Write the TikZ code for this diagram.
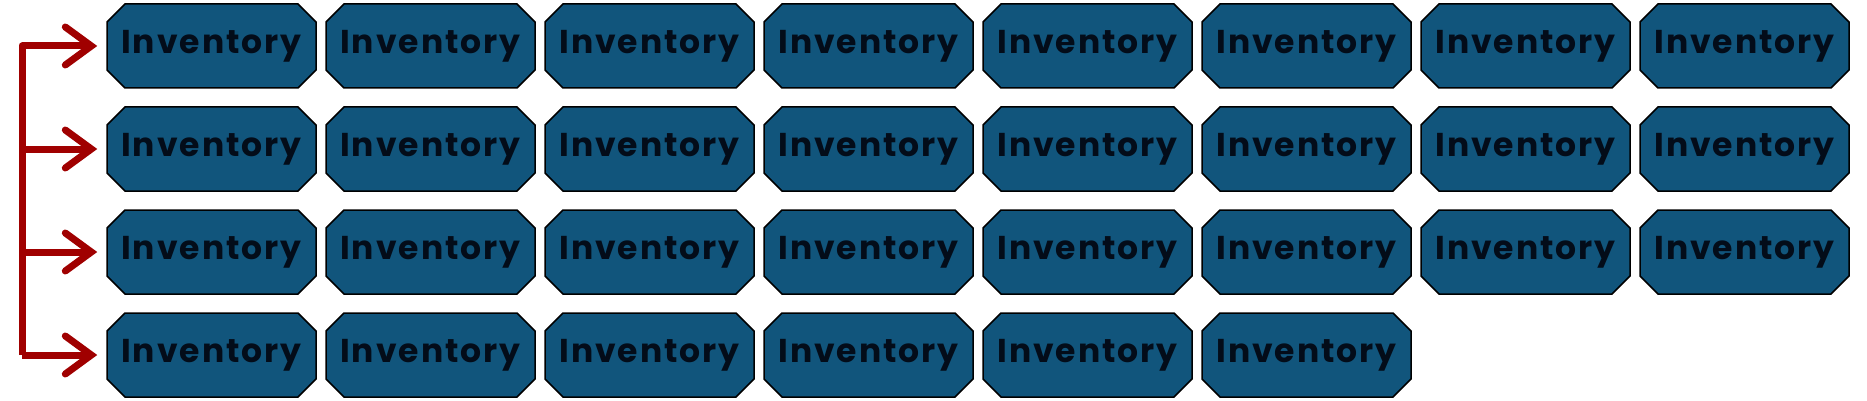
\documentclass[tikz,border=0pt]{standalone}
\usepackage{fontspec}
\setmainfont{Poppins}
\newfontfamily\invfont[LetterSpace=6]{Poppins}
\usepackage{xcolor}
\usetikzlibrary{shapes.misc,arrows.meta,positioning}

\definecolor{invfill}{HTML}{11557C}
\definecolor{invtext}{HTML}{030C19}
\definecolor{flowred}{HTML}{A00000}

\begin{document}
\begin{tikzpicture}[x=1pt, y=1pt,
box/.style={chamfered rectangle, chamfered rectangle xsep=9pt, chamfered rectangle ysep=9pt,
  draw=black, line width=1.5pt, fill=invfill, minimum width=209pt, minimum height=84pt,
  inner sep=0pt, text=invtext, font=\invfont\fontsize{33}{33}\selectfont\bfseries},
arrow/.style={-{Straight Barb[length=26pt, width=38pt, line cap=round]}, line width=7pt,
  draw=flowred, line join=round, shorten >=9pt}
]
\useasboundingbox (0,0) rectangle (1867,-401);

% Row 1
\node[box] (inv11) at (211.5,-46) {Inventory};
\node[box, right=8.5pt of inv11] (inv12) {Inventory};
\node[box, right=8.5pt of inv12] (inv13) {Inventory};
\node[box, right=8.5pt of inv13] (inv14) {Inventory};
\node[box, right=8.5pt of inv14] (inv15) {Inventory};
\node[box, right=8.5pt of inv15] (inv16) {Inventory};
\node[box, right=8.5pt of inv16] (inv17) {Inventory};
\node[box, right=8.5pt of inv17] (inv18) {Inventory};

% Row 2
\node[box, below=17.5pt of inv11] (inv21) {Inventory};
\node[box, right=8.5pt of inv21] (inv22) {Inventory};
\node[box, right=8.5pt of inv22] (inv23) {Inventory};
\node[box, right=8.5pt of inv23] (inv24) {Inventory};
\node[box, right=8.5pt of inv24] (inv25) {Inventory};
\node[box, right=8.5pt of inv25] (inv26) {Inventory};
\node[box, right=8.5pt of inv26] (inv27) {Inventory};
\node[box, right=8.5pt of inv27] (inv28) {Inventory};

% Row 3
\node[box, below=17.5pt of inv21] (inv31) {Inventory};
\node[box, right=8.5pt of inv31] (inv32) {Inventory};
\node[box, right=8.5pt of inv32] (inv33) {Inventory};
\node[box, right=8.5pt of inv33] (inv34) {Inventory};
\node[box, right=8.5pt of inv34] (inv35) {Inventory};
\node[box, right=8.5pt of inv35] (inv36) {Inventory};
\node[box, right=8.5pt of inv36] (inv37) {Inventory};
\node[box, right=8.5pt of inv37] (inv38) {Inventory};

% Row 4
\node[box, below=17.5pt of inv31] (inv41) {Inventory};
\node[box, right=8.5pt of inv41] (inv42) {Inventory};
\node[box, right=8.5pt of inv42] (inv43) {Inventory};
\node[box, right=8.5pt of inv43] (inv44) {Inventory};
\node[box, right=8.5pt of inv44] (inv45) {Inventory};
\node[box, right=8.5pt of inv45] (inv46) {Inventory};

% Spine with arrows into each row
\coordinate (spine) at (22,0);
\draw[arrow] (spine |- inv41.west) |- (inv11.west);
\draw[arrow] (spine |- inv21.west) -- (inv21.west);
\draw[arrow] (spine |- inv31.west) -- (inv31.west);
\draw[arrow] (spine |- inv41.west) -- (inv41.west);

\end{tikzpicture}
\end{document}
